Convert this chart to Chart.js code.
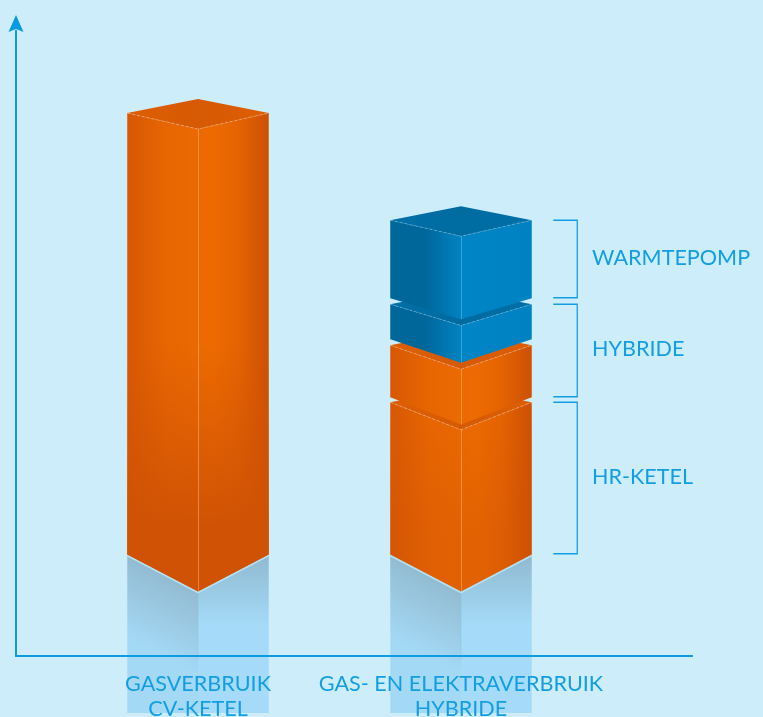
<!DOCTYPE html>
<html><head><meta charset="utf-8">
<style>html,body{margin:0;padding:0;background:#cdedfb;overflow:hidden}canvas{display:block}</style>
<script src="https://cdn.jsdelivr.net/npm/chart.js@4"></script></head>
<body><canvas id="c" width="763" height="717"></canvas>
<script>
const categories=[["GASVERBRUIK","CV-KETEL"],["GAS- EN ELEKTRAVERBRUIK","HYBRIDE"]];
const hrKetel=[[101,542],[101,253]];
const hybrideGas=[null,[258,310]];
const hybrideElektra=[null,[316,351]];
const warmtepomp=[null,[357,435]];
const bracketLabels=["WARMTEPOMP","HYBRIDE","HR-KETEL"];

const INK='#129ee2',FONT='Lato, sans-serif',FS=21.6;
const ORANGE={edge:[215,88,4],edgeR:[205,80,5],mid:[237,107,1],top:[214,90,4],topB:[222,94,3],line:'rgba(255,205,160,.42)'};
const BLUE={edge:[0,103,155],edgeR:[0,130,194],mid:[0,133,198],top:[0,108,160],topB:[0,112,168],line:'rgba(170,220,245,.35)'};
const rgb=a=>`rgb(${a[0]},${a[1]},${a[2]})`;
const toPts=a=>a.map((v,i)=>v&&{x:i,y:v}).filter(Boolean);
const depth=y=>y<220?16:16+(y-220)*21/334;
function poly(ctx,pts,fill){ctx.beginPath();pts.forEach((p,i)=>i?ctx.lineTo(p[0],p[1]):ctx.moveTo(p[0],p[1]));ctx.closePath();ctx.fillStyle=fill;ctx.fill();}
function seg(ctx,pts,col,w){ctx.beginPath();pts.forEach((p,i)=>i?ctx.lineTo(p[0],p[1]):ctx.moveTo(p[0],p[1]));ctx.strokeStyle=col;ctx.lineWidth=w;ctx.stroke();}

const reflection={id:'reflection',beforeDraw(chart){
  const ctx=chart.ctx,m=chart.getDatasetMeta(0);
  m.data.forEach(el=>{
    const c=el.x,l=c-el.width/2,r=c+el.width/2,b=el.base,d=depth(b),fy=b+d,end=713;
    let g=ctx.createLinearGradient(c,fy,c-34,fy+66);
    g.addColorStop(0,'rgb(146,187,209)');g.addColorStop(1,'rgb(164,217,246)');
    poly(ctx,[[l,b+1],[c,fy+1],[c,end],[l,end]],g);
    g=ctx.createLinearGradient(0,b,0,b+72);
    g.addColorStop(0,'rgb(143,185,208)');g.addColorStop(1,'rgb(165,219,248)');
    poly(ctx,[[c,fy+1],[r,b+1],[r,end],[c,end]],g);
    seg(ctx,[[c,fy+1],[c,660]],'rgba(130,185,215,.3)',1);
    seg(ctx,[[l,b+1],[c,fy+1],[r,b+1]],'rgb(178,226,246)',2);
  });
}};

const blocks={id:'blocks',afterDatasetsDraw(chart){
  const ctx=chart.ctx;
  chart.data.datasets.forEach((ds,i)=>{
    const P=ds.palette;
    chart.getDatasetMeta(i).data.forEach(el=>{
      const c=el.x,l=c-el.width/2,r=c+el.width/2,t=el.y,b=el.base;
      const dt=depth(t),db=depth(b),back=14;
      const face=[[c,t+dt],[r,t],[r,b],[c,b+db],[l,b],[l,t]];
      let g=ctx.createLinearGradient(l,0,r,0);
      if(P===BLUE){
        g.addColorStop(0,rgb(P.edge));g.addColorStop(.25,rgb(P.edge));g.addColorStop(.52,rgb(P.mid));g.addColorStop(1,rgb(P.edgeR));
      }else{
        g.addColorStop(0,rgb(P.edge));g.addColorStop(.28,rgb(P.mid.map((v,k)=>(v*3+P.edge[k])/4)));g.addColorStop(.6,rgb(P.mid));g.addColorStop(.78,rgb(P.mid.map((v,k)=>(v*3+P.edgeR[k])/4)));g.addColorStop(1,rgb(P.edgeR));
      }
      poly(ctx,face,g);
      if(P===ORANGE&&b-t>100){
        const tall=b-t>300;
        g=ctx.createLinearGradient(0,tall?t+230:t,0,b-20);
        g.addColorStop(0,'rgba(207,82,5,0)');g.addColorStop(1,tall?'rgba(207,82,5,1)':'rgba(207,82,5,.35)');
        poly(ctx,face,g);
      }
      g=ctx.createLinearGradient(l,t,r,t);
      g.addColorStop(0,rgb(P.topB));g.addColorStop(.5,rgb(P.top));g.addColorStop(1,rgb(P.topB));
      poly(ctx,[[l,t],[c,t-back],[r,t],[c,t+dt]],g);
      ctx.save();ctx.setLineDash([3,2]);
      seg(ctx,[[l,t],[c,t+dt],[r,t]],P.line,1);
      ctx.restore();
      seg(ctx,[[c+.5,t+dt],[c+.5,b+db]],P.line,1);
    });
  });
}};

const notes={id:'notes',afterDraw(chart){
  const ctx=chart.ctx,y=chart.scales.y,el=chart.getDatasetMeta(0).data[1];
  const x0=el.x+el.width/2+21.5,x1=x0+24;
  const ranges=[[warmtepomp[1][0],warmtepomp[1][1]],[hybrideGas[1][0],hybrideElektra[1][1]],[hrKetel[1][0],hrKetel[1][1]]];
  ctx.save();
  ranges.forEach((rg,i)=>{
    const yb=Math.round(y.getPixelForValue(rg[0]))-.25,yt=Math.round(y.getPixelForValue(rg[1]))+.25;
    seg(ctx,[[x0,yt],[x1,yt],[x1,yb],[x0,yb]],INK,1.3);
    ctx.fillStyle=INK;ctx.font=FS+'px '+FONT;ctx.textAlign='left';ctx.textBaseline='middle';
    ctx.fillText(bracketLabels[i],592,(yt+yb)/2-1);
  });
  const a=chart.chartArea;
  ctx.beginPath();ctx.moveTo(a.left,15);ctx.lineTo(a.left+7.5,32);ctx.lineTo(a.left,29);ctx.lineTo(a.left-7.5,32);ctx.closePath();
  ctx.fillStyle='#069ae3';ctx.fill();
  ctx.restore();
}};

new Chart(document.getElementById('c'),{
  type:'bar',
  data:{datasets:[
    {label:'HR-ketel',data:toPts(hrKetel),palette:ORANGE},
    {label:'Hybride gas',data:toPts(hybrideGas),palette:ORANGE},
    {label:'Hybride elektra',data:toPts(hybrideElektra),palette:BLUE},
    {label:'Warmtepomp',data:toPts(warmtepomp),palette:BLUE}
  ].map(d=>({...d,grouped:false,barThickness:141.5,backgroundColor:'transparent',borderWidth:0}))},
  plugins:[reflection,blocks,notes],
  options:{
    responsive:false,animation:false,
    layout:{padding:{left:16,right:71,top:31,bottom:0}},
    plugins:{legend:{display:false},tooltip:{enabled:false},title:{display:false}},
    scales:{
      x:{type:'linear',offset:false,min:-182/263,max:494/263,
        afterBuildTicks(s){s.ticks=categories.map((_,i)=>({value:i}));},
        afterFit(s){s.height=61.5;},
        grid:{display:false,drawTicks:false},
        border:{color:'#0f9be0',width:2},
        ticks:{autoSkip:false,maxRotation:0,minRotation:0,padding:16,color:INK,font:{family:FONT,size:FS,lineHeight:1.17},
          callback:(v)=>categories[v]}
      },
      y:{min:0,max:624,
        afterFit(s){s.width=0;},
        grid:{display:false,drawTicks:false},
        border:{color:'#0f9be0',width:2},
        ticks:{display:false}
      }
    }
  }
});
</script></body></html>
